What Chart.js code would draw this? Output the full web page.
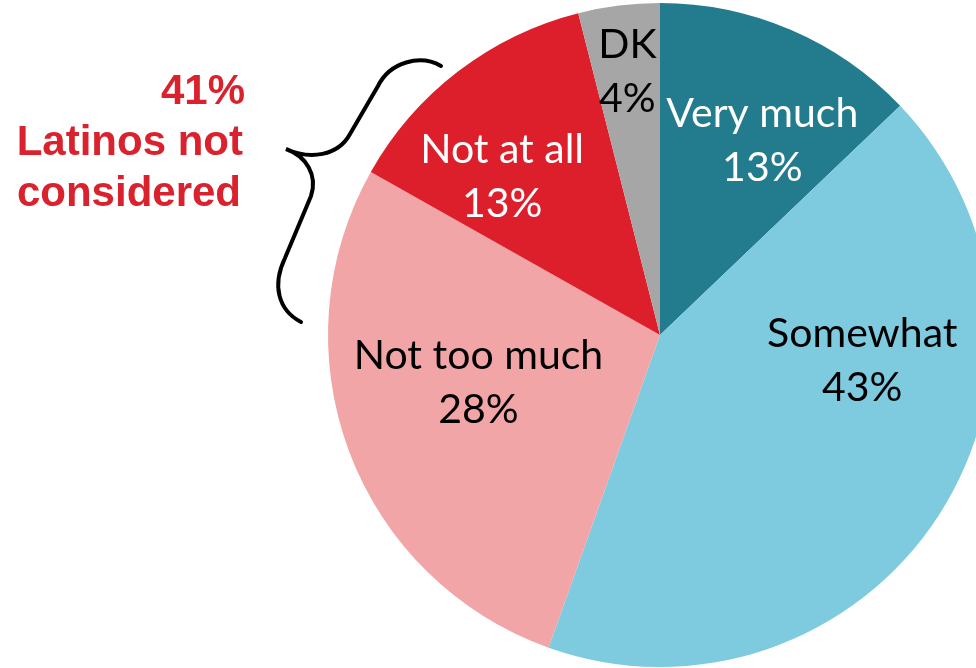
<!DOCTYPE html>
<html>
<head>
<meta charset="utf-8">
<script src="https://cdn.jsdelivr.net/npm/chart.js@4.4.0/dist/chart.umd.min.js"></script>
<style>
  html, body { margin: 0; padding: 0; background: #fff; overflow: hidden; }
  #wrap { position: relative; width: 976px; height: 668px; overflow: hidden; }
  #pie { position: absolute; left: 0; top: 0; }
</style>
</head>
<body>
<div id="wrap">
  <canvas id="pie" width="1000" height="670"></canvas>
</div>
<script>
const categories = ['Very much', 'Somewhat', 'Not too much', 'Not at all', 'DK'];
const shares = [13, 43, 28, 13, 4];
const sliceColors = ['#237b8e', '#7ecbe0', '#f2a5a7', '#dc1f2b', '#a6a6a6'];
const labelColors = ['#ffffff', '#000000', '#000000', '#ffffff', '#000000'];
// nudges from each slice's tooltip point to where its label sits
const labelShift = [[37, -42], [63, -65], [-26, -10], [-57, -26], [-12, -99]];

const sliceLabels = {
  id: 'sliceLabels',
  afterDatasetsDraw(chart) {
    const ctx = chart.ctx;
    const arcs = chart.getDatasetMeta(0).data;
    ctx.save();
    ctx.font = '41px Lato, "Open Sans", sans-serif';
    ctx.textAlign = 'center';
    ctx.textBaseline = 'middle';
    arcs.forEach((arc, i) => {
      const p = arc.tooltipPosition();
      const x = p.x + labelShift[i][0];
      const y = p.y + labelShift[i][1];
      ctx.fillStyle = labelColors[i];
      ctx.fillText(categories[i], x, y - 27);
      ctx.fillText(shares[i] + '%', x, y + 27);
    });
    ctx.restore();
  }
};

const bracket = {
  id: 'bracket',
  afterDraw(chart) {
    const ctx = chart.ctx;
    ctx.save();
    // curly brace round the two "not" slices
    ctx.strokeStyle = '#000';
    ctx.lineWidth = 4;
    ctx.lineCap = 'round';
    ctx.beginPath();
    ctx.moveTo(441, 66);
    ctx.bezierCurveTo(420, 54, 390, 62, 378, 86);
    ctx.lineTo(350, 134);
    ctx.bezierCurveTo(338, 156, 310, 160, 286, 149);
    ctx.bezierCurveTo(306, 156, 318, 175, 311, 196);
    ctx.lineTo(285, 258);
    ctx.bezierCurveTo(272, 285, 278, 310, 301, 322);
    ctx.stroke();

    // red note on the left
    ctx.fillStyle = '#d9222d';
    ctx.font = 'bold 42px "Liberation Sans", Arial, sans-serif';
    ctx.textAlign = 'right';
    ctx.textBaseline = 'alphabetic';
    ctx.fillText('41%', 245, 104);
    ctx.fillText('Latinos not', 243, 155);
    ctx.fillText('considered', 241, 206);
    ctx.restore();
  }
};

new Chart(document.getElementById('pie'), {
  type: 'pie',
  data: {
    labels: categories,
    datasets: [{
      data: shares,
      backgroundColor: sliceColors,
      borderWidth: 0
    }]
  },
  options: {
    responsive: false,
    animation: false,
    layout: { padding: { left: 328, right: 8, top: 3, bottom: 3 } },
    plugins: {
      legend: { display: false },
      tooltip: { enabled: false }
    }
  },
  plugins: [sliceLabels, bracket]
});
</script>
</body>
</html>
